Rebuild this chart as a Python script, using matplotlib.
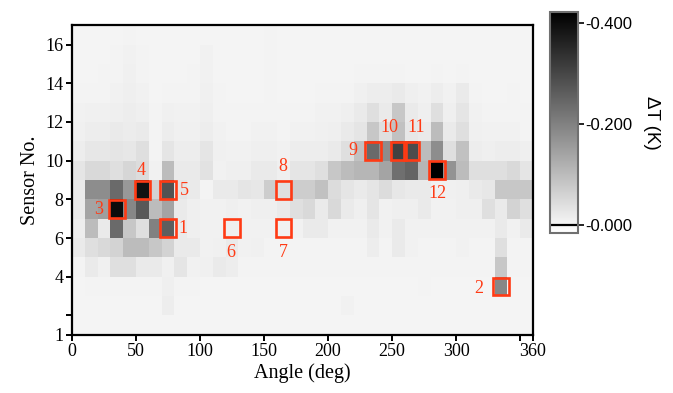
import matplotlib
matplotlib.use("Agg")
import matplotlib.pyplot as plt
import numpy as np
from matplotlib.patches import Rectangle

# angle bins (deg) and sensor rows
angle_edges = np.arange(0, 370, 10)
sensor_edges = np.arange(1, 18, 1)

# temperature change per sensor, mK, one value per 10 deg bin (0-360)
s16 = [-3,-3,-4,-4,-5,-4, -3,-3,-3,-3,-4,-3, -3,-3,-3,-5,-3,-3, -3,-3,-3,-3,-3,-3, -3,-3,-3,-3,-3,-3, -3,-3,-3,-3,-3,-3]
s15 = [-3,-4,-4,-5,-8,-5, -3,-3,-3,-4,-8,-3, -3,-3,-3,-6,-3,-3, -3,-3,-3,-3,-4,-4, -3,-4,-3,-3,-3,-3, -3,-3,-3,-3,-3,-3]
s14 = [-4,-4,-5,-6,-10,-6, -3,-4,-4,-5,-8,-4, -3,-3,-3,-5,-3,-3, -3,-3,-4,-4,-5,-6, -5,-6,-4,-4,-5,-4, -6,-3,-3,-3,-4,-3]
s13 = [-5,-6,-6,-8,-12,-8, -4,-6,-5,-6,-10,-5, -4,-4,-4,-5,-4,-4, -4,-5,-5,-6,-10,-15, -15,-20,-12,-8,-15,-8, -20,-5,-4,-4,-5,-4]
s12 = [-8,-10,-10,-12,-15,-12, -5,-10,-8,-8,-12,-6, -5,-5,-5,-6,-5,-5, -5,-8,-8,-12,-20,-40, -20,-80,-20,-12,-40,-12, -30,-8,-5,-5,-6,-5]
s11 = [-10,-15,-15,-20,-18,-20, -6,-15,-10,-10,-15,-8, -6,-6,-8,-8,-6,-8, -8,-10,-12,-20,-30,-80, -40,-90,-25,-20,-100,-20, -40,-10,-8,-8,-8,-6]
s10 = [-15,-25,-25,-30,-25,-40, -6,-30,-15,-15,-30,-10, -8,-8,-12,-12,-8,-15, -15,-15,-20,-40,-90,-240, -180,-310,-290,-100,-180,-40, -90,-15,-12,-15,-15,-12]
s9 = [-30,-50,-50,-40,-55,-45, -8,-100,-20,-20,-35,-8, -12,-12,-20,-20,-12,-30, -30,-40,-80,-100,-110,-110, -140,-230,-250,-110,-420,-170, -100,-40,-40,-40,-50,-30]
s8 = [-20,-180,-180,-240,-160,-390, -60,-280,-30,-20,-6,-20, -20,-30,-25,-70,-40,-70, -70,-90,-45,-30,-20,-30, -45,-25,-20,-20,-10,-10, -12,-20,-25,-80,-80,-80]
s7 = [-20,-140,-150,-400,-190,-270, -100,-140,-20,-12,-8,-8, -12,-8,-12,-12,-20,-40, -50,-20,-50,-20,-12,-30, -8,-12,-12,-20,-8,-8, -12,-12,-40,-20,-60,-40]
s6 = [-15,-100,-20,-240,-80,-40, -200,-260,-20,-12,-8,-8, -12,-8,-8,-8,-8,-8, -20,-20,-8,-8,-8,-20, -8,-20,-8,-8,-8,-8, -8,-8,-8,-20,-8,-20]
s5 = [-20,-40,-50,-60,-100,-100, -80,-60,-20,-20,-8,-10, -20,-8,-10,-6,-6,-6, -6,-6,-6,-6,-6,-15, -5,-20,-8,-5,-5,-5, -8,-5,-5,-40,-5,-5]
s4 = [-5,-20,-10,-40,-40,-20, -20,-10,-30,-8,-10,-20, -15,-5,-5,-5,-5,-5, -5,-5,-5,-5,-5,-5, -5,-5,-6,-5,-5,-5, -5,-5,-5,-80,-5,-5]
s3 = [-4,-5,-5,-5,-6,-6, -6,-12,-5,-5,-4,-4, -4,-4,-4,-4,-4,-4, -4,-4,-4,-4,-4,-4, -4,-4,-4,-6,-4,-4, -4,-4,-4,-190,-4,-4]
s2 = [-3,-4,-4,-4,-4,-4, -4,-15,-4,-4,-3,-3, -3,-3,-3,-3,-3,-3, -3,-3,-3,-8,-3,-3, -3,-3,-3,-3,-3,-3, -3,-3,-3,-3,-3,-3]
s1 = [-3,-3,-3,-3,-3,-3, -3,-3,-3,-3,-3,-3, -3,-3,-3,-3,-3,-3, -3,-3,-3,-3,-3,-3, -3,-3,-3,-3,-3,-3, -3,-3,-3,-3,-3,-3]

# marked cells: (angle centre, sensor centre) and label positions
box_ids = ['1', '2', '3', '4', '5', '6', '7', '8', '9', '10', '11', '12']
box_angle = [75, 335, 35, 55, 75, 125, 165, 165, 235, 255, 265, 285]
box_sensor = [6.5, 3.5, 7.5, 8.5, 8.5, 6.5, 6.5, 8.5, 10.5, 10.5, 10.5, 9.5]
lab_angle = [87, 318, 21, 54, 88, 124, 165, 165, 219, 248, 269, 285]
lab_sensor = [6.5, 3.4, 7.45, 9.5, 8.45, 5.25, 5.25, 9.7, 10.5, 11.7, 11.7, 8.3]

RED = '#ff3a14'
SERIF = 'Liberation Serif'
SANS = 'Liberation Sans'

grid = np.array([s1, s2, s3, s4, s5, s6, s7, s8, s9, s10,
                 s11, s12, s13, s14, s15, s16], dtype=float) / 1000.0

fig = plt.figure(figsize=(6.73, 3.93), dpi=100)
ax = fig.add_axes([0.107, 0.148, 0.685, 0.788])

vmin, vmax = -0.421, 0.016
mesh = ax.pcolormesh(angle_edges, sensor_edges, grid, cmap='gray',
                     vmin=vmin, vmax=vmax, shading='flat')

# red boxes + numbers
bw, bh = 12, 0.92
for i in range(len(box_ids)):
       ax.add_patch(Rectangle((box_angle[i] - bw / 2, box_sensor[i] - bh / 2), bw, bh,
                              fill=False, edgecolor=RED, lw=1.9, zorder=3))
       ax.text(lab_angle[i], lab_sensor[i], box_ids[i], color=RED, fontsize=13,
               family=SERIF, ha='center', va='center', zorder=4)

ax.set_xlim(0, 360)
ax.set_ylim(1, 17)
ax.set_xticks([0, 50, 100, 150, 200, 250, 300, 350, 360])
ax.set_xticklabels(['0', '50', '100', '150', '200', '250', '300', '', '360'])
ax.set_yticks([1, 2, 4, 6, 8, 10, 12, 14, 16])
ax.set_yticklabels(['1', '', '4', '6', '8', '10', '12', '14', '16'])
ax.tick_params(direction='out', length=4, width=1.4, labelsize=13, pad=2)
for lab in ax.get_xticklabels() + ax.get_yticklabels():
       lab.set_family(SERIF)
for sp in ax.spines.values():
       sp.set_linewidth(1.6)
ax.set_xlabel('Angle (deg)', family=SERIF, fontsize=14.5, labelpad=2)
ax.set_ylabel('Sensor No.', family=SERIF, fontsize=14.5, labelpad=4)

# colorbar
cax = fig.add_axes([0.817, 0.407, 0.042, 0.562])
cb = fig.colorbar(mesh, cax=cax)
cax.invert_yaxis()
cb.set_ticks([-0.4, -0.2, 0.0])
cb.set_ticklabels(['-0.400', '-0.200', '-0.000'])
cax.tick_params(length=4, width=1.2, labelsize=12, pad=1)
for lab in cax.get_yticklabels():
       lab.set_family(SANS)
cax.axhline(0, color='black', lw=1.6)
cb.outline.set_edgecolor('#707070')
cb.outline.set_linewidth(1.5)
cb.set_label('ΔT (K)', rotation=270, family=SANS, fontsize=13.5, labelpad=20)

fig.savefig('out.png', dpi=100)
